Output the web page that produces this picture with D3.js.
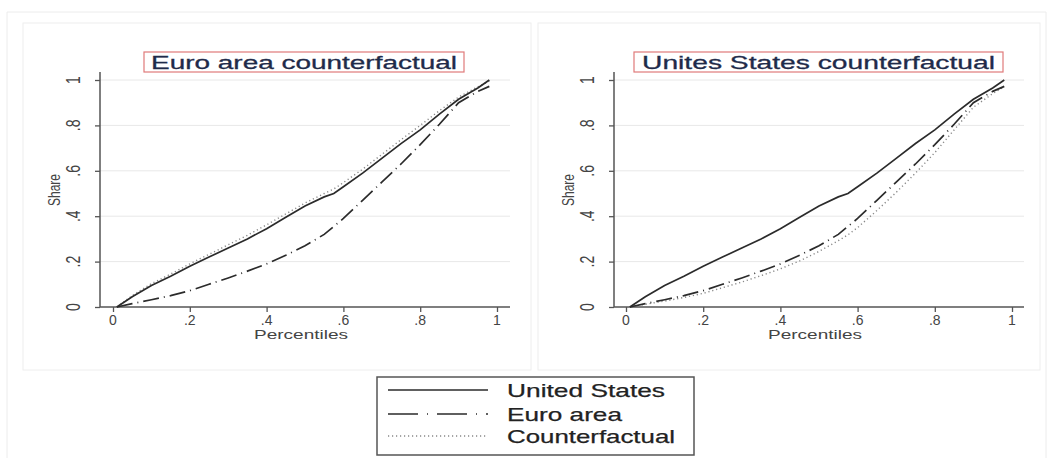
<!DOCTYPE html>
<html>
<head>
<meta charset="utf-8">
<script src="https://cdn.jsdelivr.net/npm/d3@7"></script>
<style>
  body { margin: 0; background: #fff; }
  text { font-family: "Liberation Sans", Arial, sans-serif; }
</style>
</head>
<body>
<svg id="chart" width="1052" height="458"></svg>
<script>
// percentile grid shared by every curve
var percentiles = [0.01, 0.05, 0.1, 0.15, 0.2, 0.25, 0.3, 0.35, 0.4, 0.45, 0.5, 0.55, 0.575, 0.6, 0.65, 0.7, 0.75, 0.8, 0.85, 0.9, 0.95, 0.98];

// cumulative shares
var unitedStates = [0, 0.045, 0.095, 0.135, 0.18, 0.22, 0.26, 0.30, 0.345, 0.395, 0.445, 0.485, 0.5, 0.53, 0.59, 0.655, 0.72, 0.78, 0.85, 0.915, 0.965, 1.0];
var euroArea = [0, 0.015, 0.032, 0.05, 0.072, 0.1, 0.128, 0.158, 0.19, 0.228, 0.27, 0.32, 0.355, 0.39, 0.47, 0.55, 0.63, 0.715, 0.805, 0.9, 0.95, 0.972];
var euroCounterfactual = [0, 0.05, 0.103, 0.145, 0.19, 0.232, 0.274, 0.316, 0.362, 0.41, 0.458, 0.5, 0.52, 0.548, 0.607, 0.672, 0.737, 0.8, 0.865, 0.925, 0.97, 0.995];
var usCounterfactual = [0, 0.012, 0.026, 0.042, 0.06, 0.085, 0.11, 0.138, 0.168, 0.203, 0.245, 0.292, 0.318, 0.35, 0.425, 0.505, 0.59, 0.68, 0.78, 0.88, 0.94, 0.97];

var panelTitles = ['Euro area counterfactual', 'Unites States counterfactual'];
var tickValues = [0, 0.2, 0.4, 0.6, 0.8, 1];
var tickLabels = ['0', '.2', '.4', '.6', '.8', '1'];
var legendLabels = ['United States', 'Euro area', 'Counterfactual'];

var svg = d3.select('#chart');
var ink = '#2b2b2b';
var dashDot = '16,5,1,5';
var dotted = '1.2,2.8';

function fmt(v) { return tickLabels[tickValues.indexOf(v)]; }

// outer frame
svg.append('path')
  .attr('d', 'M7,458 V12 H1046 V458')
  .attr('fill', 'none').attr('stroke', '#ececec');

var panels = [
  { box: [23, 531], xr: [113, 497], axisX: 100, axisEnd: 510, title: panelTitles[0], titleBox: [144, 464], titleLen: 306,
    cf: euroCounterfactual },
  { box: [538, 1040], xr: [626, 1012], axisX: 614, axisEnd: 1024, title: panelTitles[1], titleBox: [634, 1003], titleLen: 353,
    cf: usCounterfactual }
];

var y = d3.scaleLinear().domain([0, 1]).range([307, 80]);

panels.forEach(function (p) {
  var g = svg.append('g');
  var x = d3.scaleLinear().domain([0, 1]).range(p.xr);

  g.append('rect')
    .attr('x', p.box[0]).attr('y', 23)
    .attr('width', p.box[1] - p.box[0]).attr('height', 347)
    .attr('fill', '#fff').attr('stroke', '#eeeeee');

  // gridlines
  g.selectAll('.grid').data(tickValues.slice(1)).enter().append('line')
    .attr('x1', p.axisX).attr('x2', p.axisEnd)
    .attr('y1', function (d) { return y(d); }).attr('y2', function (d) { return y(d); })
    .attr('stroke', '#e8e8e8');

  // y axis
  var yAxis = d3.axisLeft(y).tickValues(tickValues).tickSize(5).tickFormat('');
  var ya = g.append('g').attr('transform', 'translate(' + p.axisX + ',0)').call(yAxis);
  ya.select('.domain').remove();
  ya.selectAll('line').attr('stroke', '#555').attr('stroke-width', 1.3);
  g.append('line').attr('x1', p.axisX).attr('x2', p.axisX).attr('y1', 307).attr('y2', 72)
    .attr('stroke', '#555').attr('stroke-width', 1.5);
  g.selectAll('.ylab').data(tickValues).enter().append('text')
    .attr('transform', function (d) { return 'translate(' + (p.axisX - 20) + ',' + y(d) + ') scale(1.4,1) rotate(-90)'; })
    .attr('text-anchor', 'middle')
    .attr('font-size', 14).attr('fill', '#444')
    .text(fmt);
  g.append('text')
    .attr('transform', 'translate(' + (p.axisX - 40) + ',190) scale(1.45,1) rotate(-90)')
    .attr('text-anchor', 'middle').attr('font-size', 12).attr('fill', '#444')
    .text('Share');

  // x axis
  var xAxis = d3.axisBottom(x).tickValues(tickValues).tickSize(5).tickFormat('');
  var xa = g.append('g').attr('transform', 'translate(0,307)').call(xAxis);
  xa.select('.domain').remove();
  xa.selectAll('line').attr('stroke', '#555').attr('stroke-width', 1.3);
  g.append('line').attr('x1', p.axisX).attr('x2', p.axisEnd).attr('y1', 307).attr('y2', 307)
    .attr('stroke', '#555').attr('stroke-width', 1.5);
  g.selectAll('.xlab').data(tickValues).enter().append('text')
    .attr('x', function (d) { return x(d); }).attr('y', 325)
    .attr('text-anchor', 'middle').attr('font-size', 14).attr('fill', '#444')
    .text(fmt);
  g.append('text')
    .attr('x', x(0.5) - 4).attr('y', 339)
    .attr('text-anchor', 'middle').attr('font-size', 13).attr('fill', '#444')
    .attr('textLength', 94).attr('lengthAdjust', 'spacingAndGlyphs')
    .text('Percentiles');

  // title
  g.append('rect')
    .attr('x', p.titleBox[0]).attr('y', 52)
    .attr('width', p.titleBox[1] - p.titleBox[0]).attr('height', 20)
    .attr('fill', '#fff').attr('stroke', '#e07a7a').attr('stroke-width', 1.2);
  g.append('text')
    .attr('x', (p.titleBox[0] + p.titleBox[1]) / 2).attr('y', 69)
    .attr('text-anchor', 'middle').attr('font-size', 19).attr('fill', '#1f2b4a')
    .attr('stroke', '#1f2b4a').attr('stroke-width', 0.3)
    .attr('textLength', p.titleLen).attr('lengthAdjust', 'spacingAndGlyphs')
    .text(p.title);

  var line = d3.line()
    .x(function (d, i) { return x(percentiles[i]); })
    .y(function (d) { return y(d); });

  g.append('path').attr('d', line(p.cf))
    .attr('fill', 'none').attr('stroke', '#888').attr('stroke-width', 1.4).attr('stroke-dasharray', dotted);
  g.append('path').attr('d', line(euroArea))
    .attr('fill', 'none').attr('stroke', ink).attr('stroke-width', 1.7).attr('stroke-dasharray', dashDot);
  g.append('path').attr('d', line(unitedStates))
    .attr('fill', 'none').attr('stroke', ink).attr('stroke-width', 1.7);
});

// legend
var legend = svg.append('g');
legend.append('rect')
  .attr('x', 377).attr('y', 377).attr('width', 317).attr('height', 78)
  .attr('fill', '#fff').attr('stroke', '#555').attr('stroke-width', 1.5);
var legendRows = [390, 414, 436];
var legendDash = [null, '30,9,1,9', '1.2,2.8'];
var legendColor = [ink, ink, '#888'];
var legendLen = [158, 115, 168];
legendLabels.forEach(function (label, i) {
  legend.append('line')
    .attr('x1', 388).attr('x2', 488).attr('y1', legendRows[i]).attr('y2', legendRows[i])
    .attr('stroke', legendColor[i]).attr('stroke-width', 1.6)
    .attr('stroke-dasharray', legendDash[i]);
  legend.append('text')
    .attr('x', 507).attr('y', legendRows[i] + 7)
    .attr('font-size', 19).attr('fill', '#222')
    .attr('stroke', '#222').attr('stroke-width', 0.25)
    .attr('textLength', legendLen[i]).attr('lengthAdjust', 'spacingAndGlyphs')
    .text(label);
});
</script>
</body>
</html>
